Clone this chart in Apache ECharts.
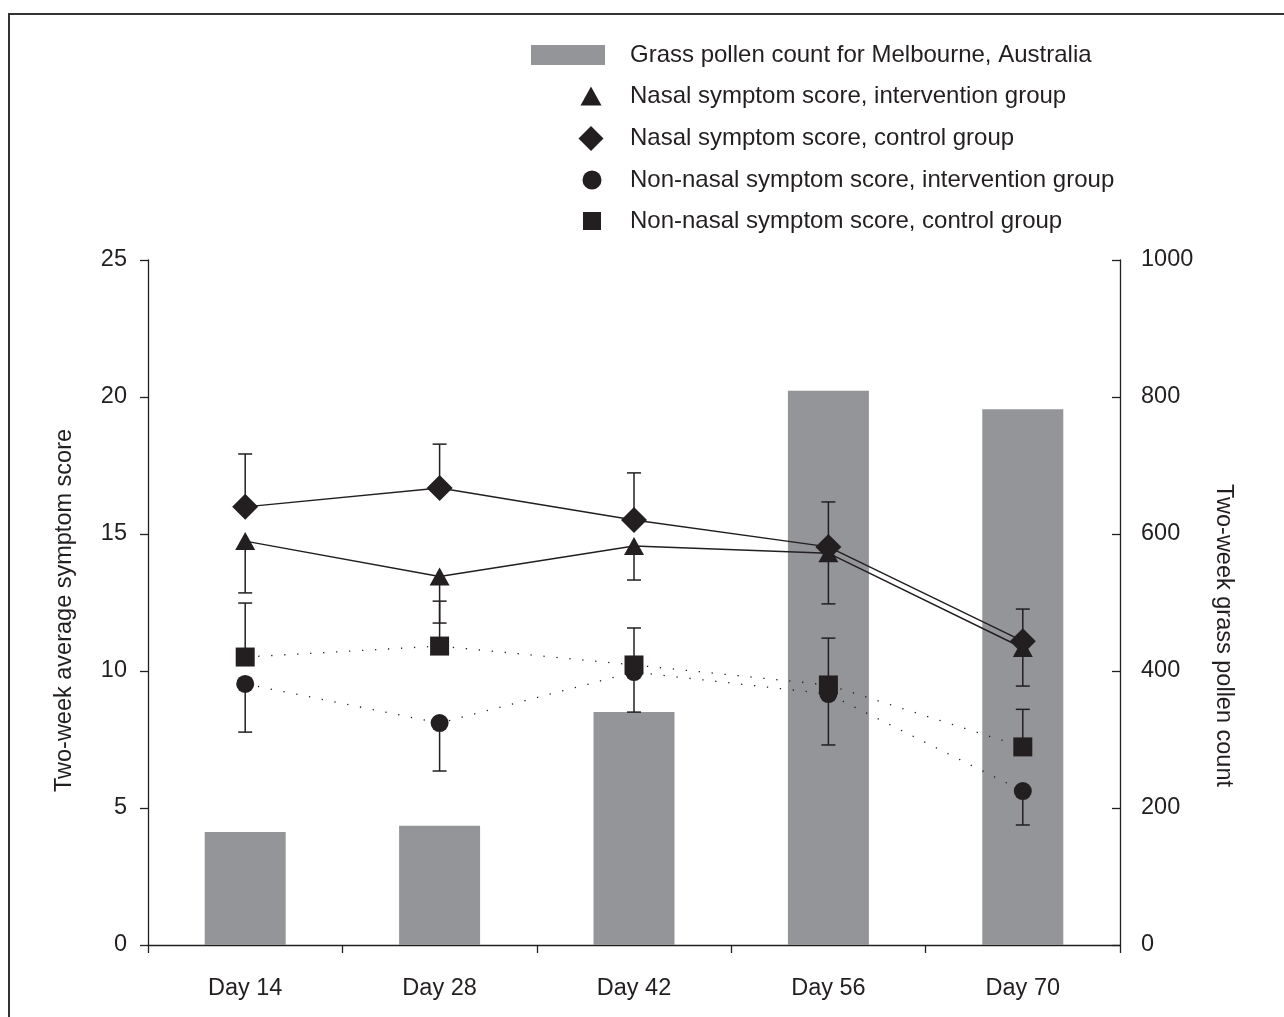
<!DOCTYPE html>
<html>
<head>
<meta charset="utf-8">
<script src="https://cdn.jsdelivr.net/npm/echarts@6/dist/echarts.min.js"></script>
<style>
  html, body { margin: 0; padding: 0; background: #fff; }
  #chart { width: 1284px; height: 1017px; }
</style>
</head>
<body>
<div id="chart"></div>
<script>
// categories
var days = ["Day 14", "Day 28", "Day 42", "Day 56", "Day 70"];
// grass pollen count (right axis)
var pollen = [165, 174, 340, 809, 782];
// nasal symptom score
var nasalInt = [14.74, 13.45, 14.56, 14.3, 10.84];
var nasalIntLow = [12.85, 11.75, 13.32, 12.45, 9.45];
var nasalCtl = [15.99, 16.68, 15.51, 14.53, 11.09];
var nasalCtlHigh = [17.92, 18.28, 17.23, 16.17, 12.26];
// non-nasal symptom score
var nonInt = [9.53, 8.1, 9.96, 9.16, 5.62];
var nonIntLow = [7.77, 6.35, 8.5, 7.3, 4.38];
var nonCtl = [10.51, 10.91, 10.22, 9.49, 7.23];
var nonCtlHigh = [12.48, 12.55, 11.57, 11.2, 8.6];

var names = [
  "Grass pollen count for Melbourne, Australia",
  "Nasal symptom score, intervention group",
  "Nasal symptom score, control group",
  "Non-nasal symptom score, intervention group",
  "Non-nasal symptom score, control group"
];

var ink = "#231f20";
var font = "Liberation Sans, Arial, Helvetica, sans-serif";

function errData(vals, ends) {
  var out = [];
  for (var i = 0; i < vals.length; i++) {
    out.push([i, vals[i], ends[i]]);
  }
  return out;
}

function renderErr(params, api) {
  var p0 = api.coord([api.value(0), api.value(1)]);
  var p1 = api.coord([api.value(0), api.value(2)]);
  var st = { stroke: ink, lineWidth: 1.5 };
  return {
    type: "group",
    children: [
      { type: "line", shape: { x1: p0[0], y1: p0[1], x2: p1[0], y2: p1[1] }, style: st },
      { type: "line", shape: { x1: p1[0] - 7, y1: p1[1], x2: p1[0] + 7, y2: p1[1] }, style: st }
    ]
  };
}

function errSeries(vals, ends) {
  return {
    type: "custom",
    renderItem: renderErr,
    data: errData(vals, ends),
    z: 3,
    silent: true
  };
}

// one legend per row so every icon keeps its own size
function legendRow(name, icon, cx, cy, w, h) {
  var left = cx - w / 2;
  return {
    data: [{ name: name, icon: icon }],
    padding: 0,
    left: left,
    top: cy - 11,
    itemWidth: w,
    itemHeight: h,
    textStyle: {
      fontSize: 24, lineHeight: 24, color: ink, fontFamily: font,
      padding: [0, 0, 0, 630 - (left + w + 5)]
    }
  };
}

var myChart = echarts.init(document.getElementById("chart"));
var option = {
  backgroundColor: "#fff",
  animation: false,
  textStyle: { fontFamily: font, color: ink },
  graphic: [
    {
      type: "polyline",
      shape: { points: [[9, 1017], [9, 14], [1284, 14]] },
      style: { stroke: "#333", lineWidth: 2, fill: null }
    }
  ],
  legend: [
    legendRow(names[0], "rect", 568, 54, 74, 20),
    legendRow(names[1], "triangle", 591, 95, 21, 19),
    legendRow(names[2], "diamond", 591, 137, 25, 25),
    legendRow(names[3], "circle", 592, 179, 19, 19),
    legendRow(names[4], "rect", 592, 220, 18, 18)
  ],
  grid: {
    left: 148,
    right: 164,
    top: 260,
    bottom: 72
  },
  xAxis: {
    type: "category",
    data: days,
    boundaryGap: true,
    axisLine: { lineStyle: { color: ink, width: 1.3 } },
    axisTick: { show: true, length: 8, lineStyle: { color: ink, width: 1.3 } },
    axisLabel: { fontSize: 23.5, color: ink, margin: 32, fontFamily: font }
  },
  yAxis: [
    {
      type: "value",
      min: 0,
      max: 25,
      interval: 5,
      name: "Two-week average symptom score",
      nameLocation: "middle",
      nameGap: 71,
      nameTextStyle: { fontSize: 23.5, color: ink, fontFamily: font, padding: [0, 16, 0, 0] },
      axisLine: { show: true, lineStyle: { color: ink, width: 1.3 } },
      axisTick: { show: true, length: 8, lineStyle: { color: ink, width: 1.3 } },
      axisLabel: { fontSize: 23.5, color: ink, margin: 21, fontFamily: font },
      splitLine: { show: false }
    },
    {
      type: "value",
      min: 0,
      max: 1000,
      interval: 200,
      position: "right",
      name: "Two-week grass pollen count",
      nameLocation: "middle",
      nameRotate: -90,
      nameGap: 91,
      nameTextStyle: { fontSize: 23.5, color: ink, fontFamily: font, padding: [0, 0, 0, 66] },
      axisLine: { show: true, lineStyle: { color: ink, width: 1.3 } },
      axisTick: { show: true, inside: true, length: 8, lineStyle: { color: ink, width: 1.3 } },
      axisLabel: {
        fontSize: 23.5, color: ink, margin: 21, fontFamily: font,
        formatter: function (v) { return String(v); }
      },
      splitLine: { show: false }
    }
  ],
  series: [
    {
      name: names[0],
      type: "bar",
      yAxisIndex: 1,
      barWidth: 81,
      itemStyle: { color: "#939598" },
      data: pollen,
      z: 1
    },
    errSeries(nasalInt, nasalIntLow),
    errSeries(nasalCtl, nasalCtlHigh),
    errSeries(nonInt, nonIntLow),
    errSeries(nonCtl, nonCtlHigh),
    {
      name: names[1],
      type: "line",
      data: nasalInt,
      symbol: "triangle",
      symbolSize: [20, 18],
      itemStyle: { color: ink },
      lineStyle: { color: ink, width: 1.5 },
      z: 4
    },
    {
      name: names[2],
      type: "line",
      data: nasalCtl,
      symbol: "diamond",
      symbolSize: [26, 26],
      itemStyle: { color: ink },
      lineStyle: { color: ink, width: 1.5 },
      z: 4
    },
    {
      name: names[3],
      type: "line",
      data: nonInt,
      symbol: "circle",
      symbolSize: 18,
      itemStyle: { color: ink },
      lineStyle: { color: ink, width: 1.3, type: [1.3, 11.7] },
      z: 4
    },
    {
      name: names[4],
      type: "line",
      data: nonCtl,
      symbol: "rect",
      symbolSize: 19,
      itemStyle: { color: ink },
      lineStyle: { color: ink, width: 1.3, type: [1.3, 11.7] },
      z: 4
    }
  ]
};
myChart.setOption(option);
</script>
</body>
</html>
